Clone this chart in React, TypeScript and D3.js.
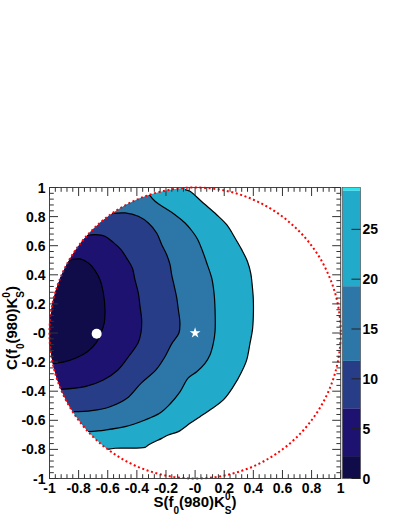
import React from "react";
import * as d3 from "d3";

const W = 409;
const H = 529;

// colour palette levels (delta chi2 style)
const levels = [2.25, 7.05, 11.8, 19.3, 28.9];
const zMax = 29.2;
const bandColors = ["#100c4a", "#1d1270", "#283d88", "#2c77a8", "#21aac9", "#24e6f0"];
const zTicks = [0, 5, 10, 15, 20, 25];

const xTicks = [-1, -0.8, -0.6, -0.4, -0.2, 0, 0.2, 0.4, 0.6, 0.8, 1];
const xTickLabels = ["-1", "-0.8", "-0.6", "-0.4", "-0.2", "-0", "0.2", "0.4", "0.6", "0.8", "1"];
const yTicks = [-1, -0.8, -0.6, -0.4, -0.2, 0, 0.2, 0.4, 0.6, 0.8, 1];
const yTickLabels = ["-1", "-0.8", "-0.6", "-0.4", "-0.2", "-0", "0.2", "0.4", "0.6", "0.8", "1"];

// contour lines [S, C], running top -> bottom
const contour1: [number, number][] = [
  [-0.868, 0.5], [-0.79, 0.509], [-0.733, 0.481], [-0.688, 0.431], [-0.653, 0.366],
  [-0.63, 0.275], [-0.619, 0.16], [-0.624, 0.069], [-0.646, 0.0], [-0.681, -0.069],
  [-0.742, -0.131], [-0.818, -0.172], [-0.9, -0.199], [-0.979, -0.21],
];
const contour2: [number, number][] = [
  [-0.743, 0.671], [-0.688, 0.676], [-0.619, 0.665], [-0.562, 0.623], [-0.509, 0.573],
  [-0.47, 0.515], [-0.431, 0.447], [-0.413, 0.366], [-0.39, 0.275], [-0.378, 0.183],
  [-0.367, 0.091], [-0.372, 0.0], [-0.392, -0.069], [-0.454, -0.158], [-0.53, -0.254],
  [-0.63, -0.323], [-0.756, -0.369], [-0.923, -0.387],
];
const contour3: [number, number][] = [
  [-0.574, 0.82], [-0.481, 0.825], [-0.39, 0.802], [-0.321, 0.756], [-0.264, 0.687],
  [-0.229, 0.607], [-0.195, 0.538], [-0.172, 0.469], [-0.161, 0.401], [-0.143, 0.321],
  [-0.126, 0.241], [-0.115, 0.16], [-0.104, 0.069], [-0.111, 0.0], [-0.159, -0.071],
  [-0.207, -0.163], [-0.269, -0.254], [-0.372, -0.346], [-0.468, -0.449], [-0.584, -0.507],
  [-0.71, -0.534], [-0.843, -0.541],
];
const contour4: [number, number][] = [
  [-0.315, 0.951], [-0.275, 0.905], [-0.207, 0.859], [-0.138, 0.813], [-0.069, 0.756],
  [-0.021, 0.701], [0.016, 0.646], [0.056, 0.55], [0.08, 0.481], [0.114, 0.378],
  [0.13, 0.275], [0.137, 0.16], [0.137, 0.012], [0.125, -0.071], [0.102, -0.151],
  [0.068, -0.208], [0.011, -0.266], [-0.047, -0.309], [-0.104, -0.405], [-0.172, -0.488],
  [-0.241, -0.55], [-0.344, -0.598], [-0.481, -0.644], [-0.619, -0.667], [-0.737, -0.678],
];
const contour5: [number, number][] = [
  [-0.069, 0.986], [-0.035, 0.974], [0.056, 0.893], [0.148, 0.813], [0.217, 0.744],
  [0.274, 0.653], [0.32, 0.573], [0.359, 0.493], [0.382, 0.412], [0.393, 0.321],
  [0.4, 0.229], [0.4, 0.115], [0.394, 0.021], [0.377, -0.071], [0.354, -0.186],
  [0.32, -0.266], [0.262, -0.369], [0.194, -0.46], [0.102, -0.529], [0.034, -0.575],
  [-0.035, -0.621], [-0.115, -0.678], [-0.184, -0.701], [-0.229, -0.724], [-0.321, -0.77],
  [-0.344, -0.786], [-0.55, -0.792], [-0.6, -0.8],
];
const contours = [contour5, contour4, contour3, contour2, contour1];
const contourColors = [bandColors[4], bandColors[3], bandColors[2], bandColors[1], bandColors[0]];

const bestFit: [number, number] = [-0.676, -0.005];
const refPoint: [number, number] = [0.0, 0.0];

const FONT = "'Liberation Sans', Arial, Helvetica, sans-serif";

export default function App() {
  const x = d3.scaleLinear().domain([-1, 1]).range([49.5, 340.7]);
  const y = d3.scaleLinear().domain([-1, 1]).range([478.5, 187.5]);
  const z = d3.scaleLinear().domain([0, zMax]).range([478.5, 187.5]);

  const line = d3
    .line<[number, number]>()
    .x((d) => x(d[0]))
    .y((d) => y(d[1]))
    .curve(d3.curveCatmullRom.alpha(0.5));

  const regionPath = (c: [number, number][]) => {
    const first = c[0];
    const last = c[c.length - 1];
    const closing: [number, number][] = [
      [-1.3, last[1]],
      [-1.3, 1.3],
      [first[0], 1.3],
    ];
    return (
      (line(c) as string) +
      closing.map((p) => `L${x(p[0])},${y(p[1])}`).join("") +
      "Z"
    );
  };

  const minorTicks = d3.range(-1, 1.0001, 0.04);
  const majorLen = 8.5;
  const minorLen = 4.3;

  const bands = [0, ...levels, zMax];

  const starPath = d3.symbol().type(d3.symbolStar).size(36)() as string;

  const x0 = x(-1), x1 = x(1), y0 = y(-1), y1 = y(1);
  const cbX0 = 342.5, cbX1 = 360.5;

  return (
    <svg
      width={W}
      height={H}
      style={{ position: "absolute", left: 0, top: 0, background: "#fff" }}
      fontFamily={FONT}
    >
      <defs>
        <clipPath id="phys">
          <ellipse cx={x(0)} cy={y(0)} rx={x(1) - x(0)} ry={y(0) - y(1)} />
        </clipPath>
      </defs>

      {/* filled regions */}
      <g clipPath="url(#phys)">
        {contours.map((c, i) => (
          <path key={"f" + i} d={regionPath(c)} fill={contourColors[i]} stroke="none" />
        ))}
        {contours.map((c, i) => (
          <path key={"l" + i} d={line(c) as string} fill="none" stroke="#000" strokeWidth={1.2} />
        ))}
      </g>

      {/* physical boundary */}
      <ellipse
        cx={x(0)}
        cy={y(0)}
        rx={x(1) - x(0)}
        ry={y(0) - y(1)}
        fill="none"
        stroke="#ff0000"
        strokeWidth={2}
        strokeDasharray="2,2.6"
      />

      {/* markers */}
      <circle cx={x(bestFit[0])} cy={y(bestFit[1])} r={5} fill="#fff" />
      <path d={starPath} transform={`translate(${x(refPoint[0])},${y(refPoint[1])})`} fill="#fff" />

      {/* frame */}
      <rect x={x0} y={y1} width={x1 - x0} height={y0 - y1} fill="none" stroke="#444" strokeWidth={1} />

      {/* ticks */}
      <g stroke="#333" strokeWidth={1}>
        {minorTicks.map((t, i) => {
          const isMajor = i % 5 === 0;
          const L = isMajor ? majorLen : minorLen;
          return (
            <g key={"t" + i}>
              <line x1={x(t)} x2={x(t)} y1={y0} y2={y0 - L} />
              <line x1={x(t)} x2={x(t)} y1={y1} y2={y1 + L} />
              <line x1={x0} x2={x0 + L} y1={y(t)} y2={y(t)} />
              <line x1={x1} x2={x1 - L} y1={y(t)} y2={y(t)} />
            </g>
          );
        })}
      </g>

      {/* tick labels */}
      <g fontSize={14} fontWeight="bold" fill="#000">
        {xTicks.map((t, i) => (
          <text key={"xl" + i} x={x(t)} y={493} textAnchor="middle">
            {xTickLabels[i]}
          </text>
        ))}
        {yTicks.map((t, i) => (
          <text key={"yl" + i} x={45.5} y={y(t) + 5} textAnchor="end">
            {yTickLabels[i]}
          </text>
        ))}
      </g>

      {/* axis titles */}
      <text x={195} y={507} textAnchor="middle" fontSize={15} fontWeight="bold">
        S(f
        <tspan dy={7} fontSize={10}>0</tspan>
        <tspan dy={-7}>(980)K</tspan>
        <tspan dy={-7} fontSize={10}>0</tspan>
        <tspan dx={-5.6} dy={14} fontSize={10}>S</tspan>
        <tspan dy={-7}>)</tspan>
      </text>
      <text
        transform={`translate(16.5,328) rotate(-90)`}
        textAnchor="middle"
        fontSize={15}
        fontWeight="bold"
      >
        C(f
        <tspan dy={7} fontSize={10}>0</tspan>
        <tspan dy={-7}>(980)K</tspan>
        <tspan dy={-7} fontSize={10}>0</tspan>
        <tspan dx={-5.6} dy={14} fontSize={10}>S</tspan>
        <tspan dy={-7}>)</tspan>
      </text>

      {/* colour bar */}
      <g>
        {bandColors.map((col, i) => (
          <rect
            key={"b" + i}
            x={cbX0}
            y={z(bands[i + 1])}
            width={cbX1 - cbX0}
            height={z(bands[i]) - z(bands[i + 1])}
            fill={col}
          />
        ))}
        <rect
          x={cbX0}
          y={z(zMax)}
          width={cbX1 - cbX0}
          height={z(0) - z(zMax)}
          fill="none"
          stroke="#444"
          strokeWidth={0.6}
        />
        {zTicks.map((t, i) => (
          <line key={"zt" + i} x1={cbX1} x2={cbX1 - 9} y1={z(t)} y2={z(t)} stroke="#222" strokeWidth={1} />
        ))}
        {zTicks.map((t, i) => (
          <text key={"zl" + i} x={362.5} y={z(t) + 5} fontSize={14} fontWeight="bold">
            {String(t)}
          </text>
        ))}
      </g>
    </svg>
  );
}
